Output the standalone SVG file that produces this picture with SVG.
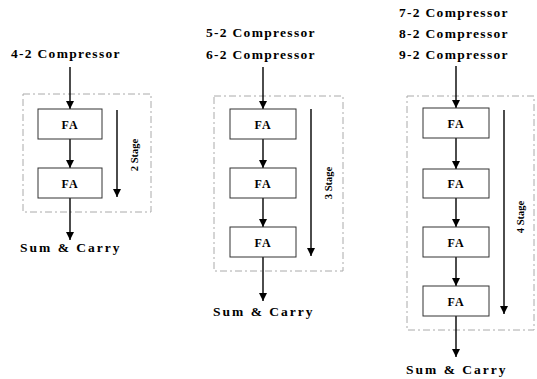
<svg xmlns="http://www.w3.org/2000/svg" width="537" height="379" viewBox="0 0 537 379">
<style>
.t{font-family:"Liberation Serif","Times New Roman",serif;font-weight:bold;font-size:13.5px;letter-spacing:1.3px;fill:#000}
.fa{font-family:"Liberation Serif","Times New Roman",serif;font-weight:bold;font-size:12px;letter-spacing:1px;fill:#000;text-anchor:middle}
.st{font-family:"Liberation Serif","Times New Roman",serif;font-weight:bold;font-size:10.5px;fill:#000;text-anchor:middle}
.box{fill:#fff;stroke:#333;stroke-width:1}
.dash{fill:none;stroke:#aaa;stroke-width:1;stroke-dasharray:7 3 2 3}
.c{stroke:#000;stroke-width:1.4;fill:none;marker-end:url(#ah)}
</style>
<defs>
<marker id="ah" viewBox="0 0 10 10" refX="10" refY="5" markerWidth="8" markerHeight="8" markerUnits="userSpaceOnUse" orient="auto">
<path d="M0,0 L10,5 L0,10 z" fill="#000"/>
</marker>
</defs>
<rect width="537" height="379" fill="#fff"/>
<g id="frames">
<rect class="dash" x="23" y="94" width="128" height="118"/>
<rect class="dash" x="214" y="96" width="129" height="175"/>
<rect class="dash" x="407" y="96" width="127" height="234"/>
</g>
<g id="connectors">
<line class="c" x1="70" y1="67" x2="70" y2="109"/>
<line class="c" x1="70" y1="139" x2="70" y2="168"/>
<line class="c" x1="70" y1="198" x2="70" y2="240"/>
<line class="c" x1="117" y1="110" x2="117" y2="197"/>
<line class="c" x1="263" y1="67" x2="263" y2="109"/>
<line class="c" x1="263" y1="139" x2="263" y2="168"/>
<line class="c" x1="263" y1="198" x2="263" y2="227"/>
<line class="c" x1="263" y1="257" x2="263" y2="301"/>
<line class="c" x1="311" y1="109" x2="311" y2="256"/>
<line class="c" x1="456" y1="66" x2="456" y2="108"/>
<line class="c" x1="456" y1="138" x2="456" y2="169"/>
<line class="c" x1="456" y1="198" x2="456" y2="227"/>
<line class="c" x1="456" y1="257" x2="456" y2="286"/>
<line class="c" x1="456" y1="316" x2="456" y2="357"/>
<line class="c" x1="504" y1="110" x2="504" y2="314"/>
</g>
<g id="titles">
<text class="t" x="11" y="58">4-2 Compressor</text>
<text class="t" x="206" y="37">5-2 Compressor</text>
<text class="t" x="206" y="59">6-2 Compressor</text>
<text class="t" x="399" y="17">7-2 Compressor</text>
<text class="t" x="399" y="38">8-2 Compressor</text>
<text class="t" x="399" y="59">9-2 Compressor</text>
</g>
<g id="fa1a"><rect class="box" x="38" y="109" width="64" height="30"/><text class="fa" x="70" y="129">FA</text></g>
<g id="fa1b"><rect class="box" x="38" y="168" width="64" height="30"/><text class="fa" x="70" y="188">FA</text></g>
<g id="fa2a"><rect class="box" x="230" y="109" width="66" height="30"/><text class="fa" x="263" y="129">FA</text></g>
<g id="fa2b"><rect class="box" x="230" y="168" width="66" height="30"/><text class="fa" x="263" y="188">FA</text></g>
<g id="fa2c"><rect class="box" x="230" y="227" width="66" height="30"/><text class="fa" x="263" y="247">FA</text></g>
<g id="fa3a"><rect class="box" x="423" y="108" width="66" height="30"/><text class="fa" x="456" y="128">FA</text></g>
<g id="fa3b"><rect class="box" x="423" y="169" width="66" height="29"/><text class="fa" x="456" y="188">FA</text></g>
<g id="fa3c"><rect class="box" x="423" y="227" width="66" height="30"/><text class="fa" x="456" y="247">FA</text></g>
<g id="fa3d"><rect class="box" x="423" y="286" width="66" height="30"/><text class="fa" x="456" y="306">FA</text></g>
<g id="stages">
<text class="st" transform="translate(138,155) rotate(-90)">2 Stage</text>
<text class="st" transform="translate(332,183) rotate(-90)">3 Stage</text>
<text class="st" transform="translate(524,217) rotate(-90)">4 Stage</text>
</g>
<g id="outputs">
<text class="t" x="20" y="252" style="letter-spacing:2px">Sum &amp; Carry</text>
<text class="t" x="213" y="316" style="letter-spacing:2px">Sum &amp; Carry</text>
<text class="t" x="406" y="374" style="letter-spacing:2px">Sum &amp; Carry</text>
</g>
</svg>
